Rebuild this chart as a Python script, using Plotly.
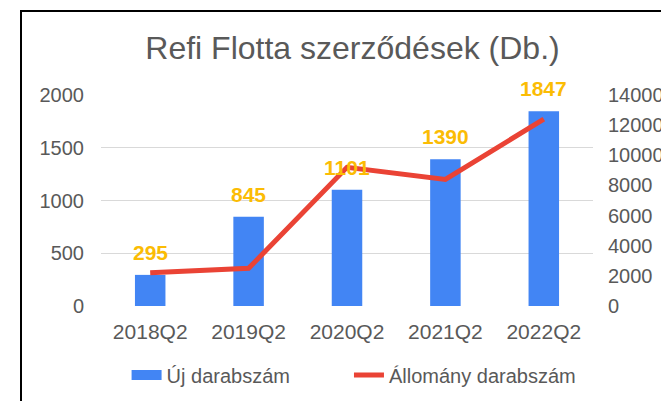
import plotly.graph_objects as go

categories = ["2018Q2", "2019Q2", "2020Q2", "2021Q2", "2022Q2"]
uj_darab = [295, 845, 1101, 1390, 1847]
allomany_darab = [2200, 2500, 9200, 8400, 12400]
left_ticks = [0, 500, 1000, 1500, 2000]
right_ticks = [0, 2000, 4000, 6000, 8000, 10000, 12000, 14000]

BLUE = "#4285F4"
RED = "#EA4335"
LABEL = "#FBBC04"
GREY = "#595959"
FONT = "Liberation Sans, Arial, sans-serif"

# page body has an 8px margin; figure sized so it fits the 669x401 window
W, H = 661, 393

fig = go.Figure()
fig.add_trace(go.Bar(
    x=categories, y=uj_darab, name="Új darabszám",
    marker=dict(color=BLUE, line=dict(width=0)), width=0.31,
    showlegend=False, yaxis="y",
))
fig.add_trace(go.Scatter(
    x=[None], y=[None], name="Új darabszám", mode="lines",
    line=dict(color=BLUE, width=10), showlegend=True, yaxis="y",
    legend="legend",
))
fig.add_trace(go.Scatter(
    x=categories, y=allomany_darab, name="Állomány darabszám", mode="lines",
    line=dict(color=RED, width=5), yaxis="y2", legend="legend2",
))

for c, v in zip(categories, uj_darab):
    fig.add_annotation(x=c, y=v, xref="x", yref="y", text=f"<b>{v}</b>",
                       showarrow=False, yanchor="bottom", yshift=9,
                       font=dict(family=FONT, size=21, color=LABEL))

legend_common = dict(orientation="h", xanchor="left", y=-0.327, yanchor="middle",
                     font=dict(family=FONT, size=20, color=GREY),
                     bgcolor="rgba(0,0,0,0)")

fig.update_layout(
    width=W, height=H,
    margin=dict(l=93, r=76, t=87, b=95, autoexpand=False),
    paper_bgcolor="white", plot_bgcolor="white",
    font=dict(family=FONT, size=20, color=GREY),
    title=dict(text="Refi Flotta szerződések (Db.)", x=344.5 / W, xref="container",
               xanchor="center", y=1 - 40 / H, yref="container", yanchor="middle",
               font=dict(family=FONT, size=32, color=GREY)),
    xaxis=dict(type="category", showgrid=False, showline=False, zeroline=False,
               automargin=False, ticks="", ticklabelstandoff=11, tickfont=dict(size=21)),
    yaxis=dict(range=[0, 2000], tickvals=left_ticks, showgrid=True,
               gridcolor="#D9D9D9", gridwidth=1, zeroline=False, showline=False,
               automargin=False, ticks="", ticklabelstandoff=16, tickfont=dict(size=20)),
    yaxis2=dict(range=[0, 14000], tickvals=right_ticks,
                ticktext=[str(t) for t in right_ticks], overlaying="y", side="right",
                showgrid=False, zeroline=False, showline=False, ticks="",
                automargin=False, ticklabelstandoff=14, tickfont=dict(size=20)),
    legend=dict(x=0.052, **legend_common),
    legend2=dict(x=0.504, **legend_common),
    shapes=[dict(type="rect", xref="paper", yref="paper",
                 x0=(13 - 93) / 492, x1=1.3, y0=-0.7, y1=(298 - 3) / 211,
                 line=dict(color="black", width=2), fillcolor="rgba(0,0,0,0)",
                 layer="below")],
)

fig.write_html("out.html")
